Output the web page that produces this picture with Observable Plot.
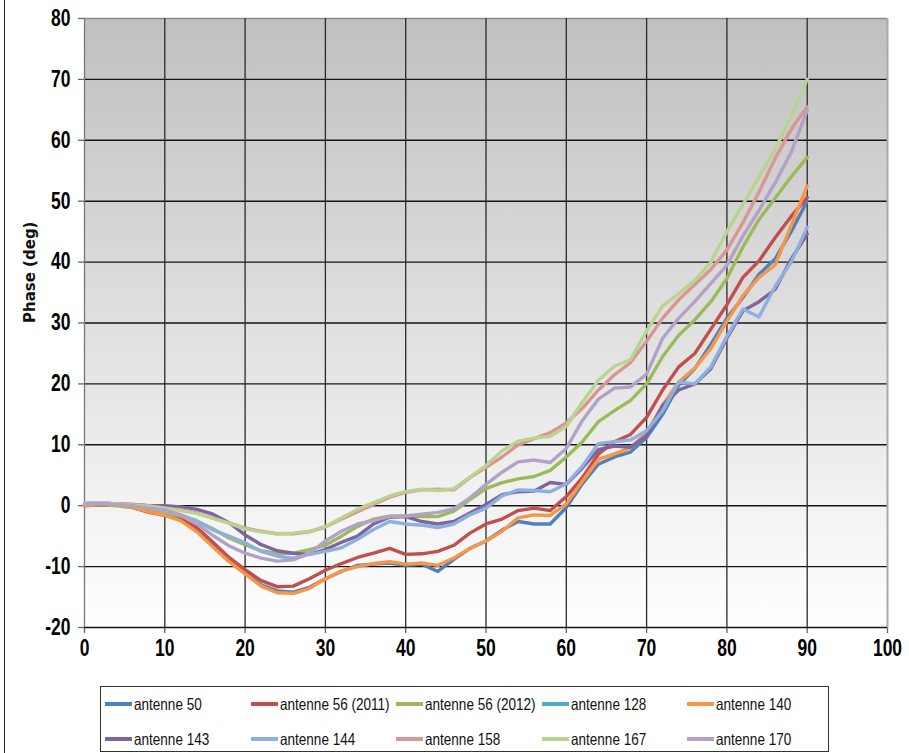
<!DOCTYPE html>
<html>
<head>
<meta charset="utf-8">
<script src="https://cdn.jsdelivr.net/npm/d3@7"></script>
<script src="https://cdn.jsdelivr.net/npm/@observablehq/plot@0.6"></script>
<style>
  body { margin: 0; background: #fff; }
  #wrap { position: relative; width: 909px; height: 753px; overflow: hidden;
          font-family: "Liberation Sans", Arial, sans-serif; }
  #edge { position: absolute; left: 4px; top: 0; height: 753px; border-left: 1.5px solid #222; }
  #chart { position: absolute; left: 0; top: 0; }
  #legend { position: absolute; left: 100px; top: 686px; width: 729px; height: 66px;
            border: 1px solid #333; box-sizing: border-box; background: #fff; }
  .item { position: absolute; display: flex; align-items: center; height: 20px;
          font-size: 16.5px; color: #111; white-space: nowrap; }
  .swatch { width: 27px; height: 3.5px; margin-right: 2px; flex: none; }
  .item span { display: inline-block; transform: scaleX(0.82); transform-origin: 0 50%; }
</style>
</head>
<body>
<div id="wrap">
  <div id="edge"></div>
  <div id="chart"></div>
  <div id="legend"></div>
</div>
<script>
// Incidence angle (deg) at which each phase sample was taken
const angles = [0, 2, 4, 6, 8, 10, 12, 14, 16, 18, 20, 22, 24, 26, 28, 30, 32, 34, 36, 38,
                40, 42, 44, 46, 48, 50, 52, 54, 56, 58, 60, 62, 64, 66, 68, 70, 72, 74, 76, 78,
                80, 82, 84, 86, 88, 90];

// Measured phase (deg) per antenna
const ant50 = [0.2, 0.4, 0.3, 0, -0.6, -1.3, -2.2, -4, -6.6, -9, -11, -13, -14, -14.2, -13.4, -12, -10.8, -9.8, -9.6, -9.4,
               -9.8, -9.6, -10.8, -8.8, -7, -5.8, -4, -2.6, -3, -3, -0.3, 3.6, 6.8, 8, 8.8, 11.2, 15, 19.8, 22.5, 26.5,
               30.8, 34.2, 38, 40.5, 45, 50];
const ant56_2011 = [0, 0.2, 0.1, -0.3, -1.1, -1.6, -2.2, -3.6, -6, -8.5, -10.5, -12.3, -13.3, -13.2, -12, -10.6, -9.5, -8.5, -7.8, -7,
                    -8, -7.9, -7.5, -6.5, -4.5, -3, -2.2, -0.8, -0.4, -0.8, 1.5, 4.6, 8.5, 10.5, 11.7, 14.5, 19, 22.8, 25, 29,
                    33, 37.5, 40.2, 44, 47.5, 50.6];
const ant56_2012 = [0, 0.2, 0, -0.3, -0.9, -1.2, -1.7, -2.5, -3.8, -5.3, -6.4, -7.4, -7.8, -7.8, -7.2, -6.5, -5, -3.4, -2.2, -1.7,
                    -1.7, -1.8, -1.8, -0.9, 1, 2.8, 3.8, 4.4, 4.8, 5.8, 8, 10.5, 13.8, 15.6, 17.3, 20, 24.5, 28, 30.5, 33.5,
                    37.3, 42.5, 47, 50.5, 54, 57.2];
const ant128 = [];
const ant140 = [0, 0.3, 0.2, -0.2, -1, -1.6, -2.5, -4.3, -6.8, -9.2, -11.2, -13.2, -14.3, -14.4, -13.6, -12, -10.7, -10, -9.5, -9.2,
                -9.6, -9.4, -9.8, -8.6, -7, -5.8, -4.2, -2, -1.5, -1.6, 0.3, 4, 7.6, 8.5, 9.5, 12, 16.5, 20.3, 22.6, 25.8,
                30.3, 34.5, 37.5, 39.5, 46, 52.5];
const ant143 = [0.3, 0.4, 0.3, 0.2, 0, 0, -0.2, -0.6, -1.4, -2.8, -4.8, -6.4, -7.4, -7.8, -8, -7.2, -6, -5, -3, -1.9,
                -1.8, -2.6, -3, -2.6, -1.2, 0.2, 1.8, 2.3, 2.4, 3.8, 3.5, 6.2, 9.2, 9.8, 9.6, 11.5, 16.5, 19, 20, 22.5,
                27.5, 32, 33.5, 35.5, 40.5, 44.6];
const ant144 = [0.4, 0.5, 0.3, 0.1, -0.3, -0.9, -1.5, -2.5, -4, -5, -6.1, -7.5, -8.3, -8.6, -8, -7.5, -6.9, -5.5, -3.9, -2.6,
                -3, -3.2, -3.6, -3, -1.5, -0.4, 1.6, 2.6, 2.5, 2.3, 3.6, 6.5, 10.2, 10.5, 10.8, 12.3, 15.6, 20.3, 20, 22.8,
                27.8, 32.3, 31, 36, 40, 45.7];
const ant158 = [0.2, 0.4, 0.3, 0.2, 0, -0.4, -0.7, -1.2, -2, -2.8, -3.7, -4.2, -4.6, -4.6, -4.3, -3.5, -2.2, -1, 0.2, 1.4,
                2.2, 2.6, 2.7, 2.6, 4.6, 6.3, 8, 10, 11, 12, 13.6, 16, 19, 21.5, 23.5, 27, 30.8, 33.8, 36.3, 38.8,
                42, 46.5, 51.5, 57, 61.8, 65.5];
const ant167 = [0.3, 0.5, 0.3, 0.1, -0.1, -0.4, -0.8, -1.3, -2.1, -2.9, -3.8, -4.3, -4.6, -4.5, -4.2, -3.4, -2, -0.6, 0.5, 1.6,
                2.3, 2.7, 2.5, 2.8, 4.7, 6.6, 9, 10.6, 11.1, 11.4, 13, 17, 20.6, 22.9, 24, 28.7, 32.8, 34.8, 37, 40,
                45, 49.5, 54, 58.5, 64, 70];
const ant170 = [0.3, 0.4, 0.2, 0, -0.4, -0.7, -1.5, -3, -4.9, -6.6, -7.8, -8.6, -9.1, -8.9, -7.8, -5.8, -4.2, -3, -2.4, -1.8,
                -1.7, -1.4, -1.1, -0.5, 1.3, 3.5, 5.5, 7.2, 7.5, 7.1, 9.4, 14, 17.5, 19.3, 19.5, 21.6, 27.5, 30.8, 33.5, 36.5,
                39.5, 44.3, 48.5, 53, 58, 64.9];

const seriesNames = ["antenne 50", "antenne 56 (2011)", "antenne 56 (2012)", "antenne 128", "antenne 140",
                     "antenne 143", "antenne 144", "antenne 158", "antenne 167", "antenne 170"];
const seriesValues = [ant50, ant56_2011, ant56_2012, ant128, ant140, ant143, ant144, ant158, ant167, ant170];
const seriesColors = ["#4F81BD", "#C0504D", "#9BBB59", "#4BACC6", "#F79646",
                      "#8064A2", "#8EB0DE", "#D99694", "#B9D48E", "#B3A2C7"];

const xTicks = [0, 10, 20, 30, 40, 50, 60, 70, 80, 90, 100];
const yTicks = [-20, -10, 0, 10, 20, 30, 40, 50, 60, 70, 80];
const yLabel = "Phase (deg)";

// Long table: one row per (antenna, angle)
const rows = seriesNames.flatMap((name, s) =>
  seriesValues[s].map((v, i) => ({series: name, angle: angles[i], phase: v})));

const xMin = d3.min(xTicks), xMax = d3.max(xTicks);
const yMin = d3.min(yTicks), yMax = d3.max(yTicks);

const chart = Plot.plot({
  width: 909,
  height: 672,
  marginTop: 18,
  marginRight: 22,
  marginBottom: 45,
  marginLeft: 84,
  style: {fontFamily: '"Liberation Sans", Arial, sans-serif', fontSize: "23px", fontWeight: "bold",
          color: "#000", background: "transparent", overflow: "visible"},
  x: {domain: [xMin, xMax], ticks: xTicks, tickSize: 6, tickPadding: 6, tickFormat: d => String(d), label: null},
  y: {domain: [yMin, yMax], ticks: yTicks, tickSize: 6, tickPadding: 8, tickFormat: d => String(d), label: null},
  color: {domain: seriesNames, range: seriesColors},
  marks: [
    Plot.frame({fill: "url(#plotBg)", stroke: null}),
    Plot.ruleY(yTicks, {stroke: d => (d === yMax ? "#8a8a8a" : "#151515"), strokeWidth: 1.4}),
    Plot.ruleX(xTicks, {stroke: d => (d === xMin ? "#777" : d === xMax ? "#aaa" : "#2a2a2a"), strokeWidth: d => (d === xMax ? 2 : 1.3)}),
    Plot.line(rows, {x: "angle", y: "phase", z: "series", stroke: "series", strokeWidth: 3.4,
                     strokeLinejoin: "round", strokeLinecap: "round"}),
    Plot.text([yLabel], {frameAnchor: "left", rotate: -90, dx: -54, text: d => d,
                         fontFamily: '"DejaVu Sans", Verdana, sans-serif', fontSize: 15, fontWeight: "bold", fill: "#111"})
  ]
});

// Vertical grey gradient behind the plotting area
const defs = d3.select(chart).insert("defs", ":first-child");
const grad = defs.append("linearGradient").attr("id", "plotBg")
  .attr("x1", 0).attr("y1", 0).attr("x2", 0).attr("y2", 1);
grad.append("stop").attr("offset", "0%").attr("stop-color", "#c0c0c0");
grad.append("stop").attr("offset", "100%").attr("stop-color", "#ffffff");

// Grey tick marks and condensed tick labels
d3.select(chart).selectAll('g[aria-label="x-axis tick"] path, g[aria-label="y-axis tick"] path')
  .attr("stroke", "#666").attr("stroke-width", 1.3);
d3.select(chart).selectAll('g[aria-label="x-axis tick label"] text, g[aria-label="y-axis tick label"] text')
  .each(function () {
    const t = this.getAttribute("transform") || "";
    this.setAttribute("transform", t + " scale(0.76,1)");
  });

document.getElementById("chart").appendChild(chart);

// Legend: five columns, two rows
const legend = d3.select("#legend");
seriesNames.forEach((name, i) => {
  const col = i % 5, row = Math.floor(i / 5);
  const item = legend.append("div").attr("class", "item")
    .style("left", (4 + col * 145.5) + "px")
    .style("top", (7 + row * 35) + "px");
  item.append("div").attr("class", "swatch").style("background", seriesColors[i]);
  item.append("span").text(name);
});
</script>
</body>
</html>
